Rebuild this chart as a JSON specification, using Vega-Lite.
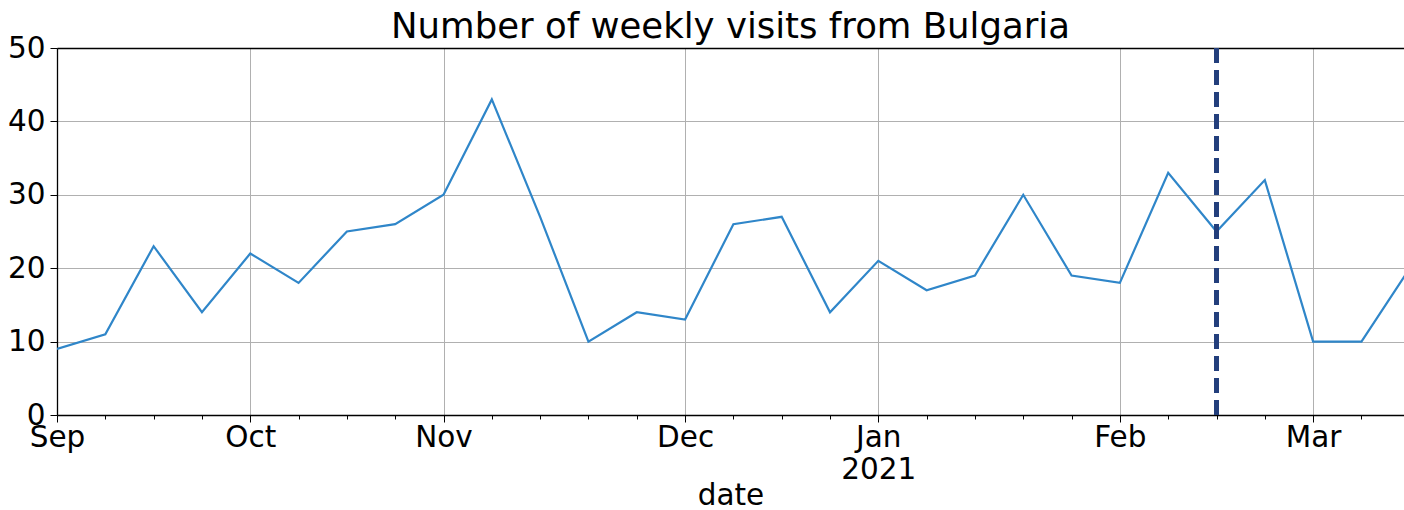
{
  "$schema": "https://vega.github.io/schema/vega-lite/v6.json",
  "autosize": "none",
  "width": 1347,
  "height": 367,
  "padding": {"left": 57, "top": 48, "right": 0, "bottom": 95},
  "background": "white",
  "config": {"view": {"stroke": null}, "font": "DejaVu Sans"},
  "title": {"text": "Number of weekly visits from Bulgaria", "fontSize": 35.5, "fontWeight": "normal", "font": "DejaVu Sans", "color": "black", "offset": -12},
  "data": {"values": [
    {"date": "2020-09-06", "visits": 9},
    {"date": "2020-09-13", "visits": 11},
    {"date": "2020-09-20", "visits": 23},
    {"date": "2020-09-27", "visits": 14},
    {"date": "2020-10-04", "visits": 22},
    {"date": "2020-10-11", "visits": 18},
    {"date": "2020-10-18", "visits": 25},
    {"date": "2020-10-25", "visits": 26},
    {"date": "2020-11-01", "visits": 30},
    {"date": "2020-11-08", "visits": 43},
    {"date": "2020-11-15", "visits": 27},
    {"date": "2020-11-22", "visits": 10},
    {"date": "2020-11-29", "visits": 14},
    {"date": "2020-12-06", "visits": 13},
    {"date": "2020-12-13", "visits": 26},
    {"date": "2020-12-20", "visits": 27},
    {"date": "2020-12-27", "visits": 14},
    {"date": "2021-01-03", "visits": 21},
    {"date": "2021-01-10", "visits": 17},
    {"date": "2021-01-17", "visits": 19},
    {"date": "2021-01-24", "visits": 30},
    {"date": "2021-01-31", "visits": 19},
    {"date": "2021-02-07", "visits": 18},
    {"date": "2021-02-14", "visits": 33},
    {"date": "2021-02-21", "visits": 25},
    {"date": "2021-02-28", "visits": 32},
    {"date": "2021-03-07", "visits": 10},
    {"date": "2021-03-14", "visits": 10},
    {"date": "2021-03-21", "visits": 20}
  ]},
  "layer": [
    {
      "mark": {"type": "line", "color": "#2f86c9", "strokeWidth": 2.2, "clip": true},
      "encoding": {
        "x": {
          "field": "date", "type": "temporal",
          "scale": {"type": "utc", "domain": [{"year": 2020, "month": 9, "date": 6, "utc": true}, {"year": 2021, "month": 3, "date": 20, "hours": 4, "utc": true}]},
          "axis": {
            "title": "date", "titleFontSize": 29.5, "titleFontWeight": "normal", "titleColor": "black", "titlePadding": -2,
            "tickCount": {"interval": "week", "step": 1},
            "labelExpr": "utcdate(datum.value) <= 7 ? (utcmonth(datum.value) == 0 ? ['Jan', '2021'] : utcFormat(datum.value, '%b')) : ''",
            "labelFontSize": 29.5, "labelLineHeight": 32, "labelColor": "black", "labelOverlap": false, "labelFlush": false, "labelPadding": 1,
            "tickSize": {"condition": {"test": "utcdate(datum.value) <= 7", "value": 7}, "value": 4},
            "tickColor": "black", "tickWidth": 1,
            "domainColor": "black", "domainWidth": 1.3,
            "grid": true, "gridColor": "#b0b0b0", "gridWidth": 1,
            "gridOpacity": {"condition": {"test": "utcdate(datum.value) <= 7", "value": 1}, "value": 0}
          }
        },
        "y": {
          "field": "visits", "type": "quantitative",
          "scale": {"domain": [0, 50], "nice": false},
          "axis": {
            "title": null, "values": [0, 10, 20, 30, 40, 50],
            "labelFontSize": 29.5, "labelColor": "black", "labelFlush": false, "labelPadding": 5,
            "tickSize": 7, "tickColor": "black", "domainColor": "black", "domainWidth": 1.3,
            "grid": true, "gridColor": "#b0b0b0", "gridWidth": 1
          }
        }
      }
    },
    {
      "mark": {"type": "rule", "color": "#233f7c", "strokeWidth": 5, "strokeDash": [15, 7]},
      "encoding": {
        "x": {
          "datum": {"year": 2021, "month": 2, "date": 21, "utc": true}, "type": "temporal",
          "axis": {"orient": "top", "title": null, "labels": false, "ticks": false, "grid": false, "domain": true, "domainColor": "black", "domainWidth": 1.3}
        }
      }
    }
  ],
  "resolve": {"axis": {"x": "independent"}}
}
